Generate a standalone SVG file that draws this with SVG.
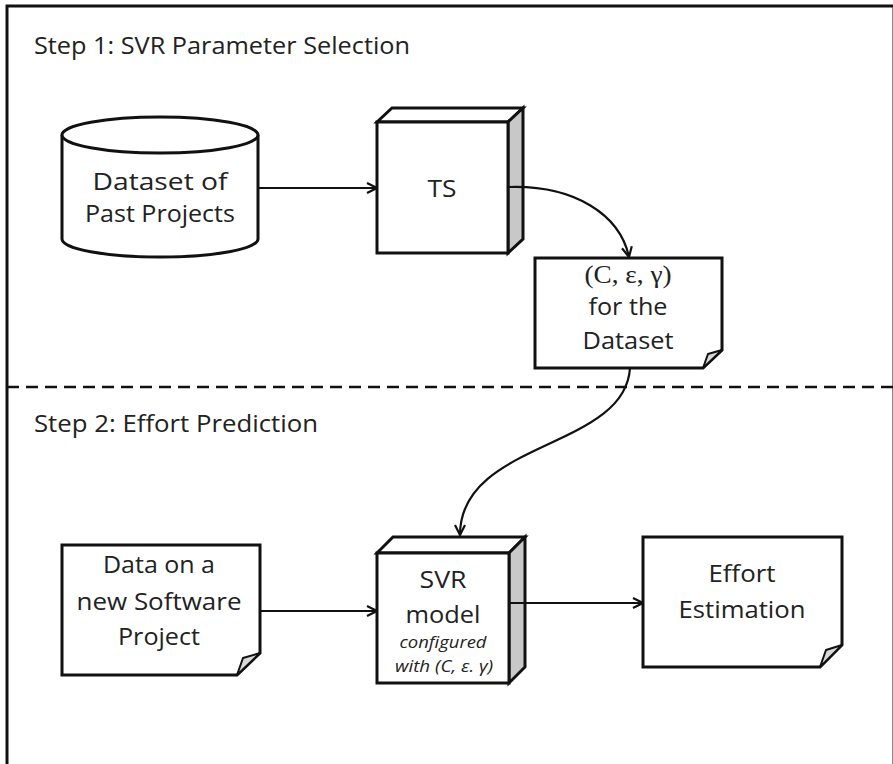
<svg xmlns="http://www.w3.org/2000/svg" width="893" height="764" viewBox="0 0 893 764">
  <style>
    .shape { fill: #ffffff; stroke: #111111; stroke-width: 3; stroke-linejoin: miter; }
    .side { fill: #c8c8c8; stroke: #111111; stroke-width: 3; }
    .curl { fill: #d9d9d9; stroke: #111111; stroke-width: 2; stroke-linejoin: round; }
    .label { font-family: "Open Sans", "Noto Sans", sans-serif; font-size: 24px; fill: #222222; text-anchor: middle; }
    .step { font-family: "Open Sans", "Noto Sans", sans-serif; font-size: 23px; fill: #222222; }
    .math { font-family: "Liberation Serif", serif; font-size: 25px; fill: #222222; text-anchor: middle; }
    .note { font-family: "Open Sans", "Noto Sans", sans-serif; font-style: italic; font-size: 16px; fill: #222222; text-anchor: middle; }
    .edge { fill: none; stroke: #111111; stroke-width: 2.2; }
  </style>
  <defs>
    <marker id="arrow" viewBox="0 0 12 12" refX="11" refY="6" markerWidth="12" markerHeight="12" markerUnits="userSpaceOnUse" orient="auto">
      <path d="M1,1 L11,6 L1,11" fill="none" stroke="#111111" stroke-width="2.2"/>
    </marker>
  </defs>

  <rect width="893" height="764" fill="#ffffff"/>

  <!-- outer frame and step divider -->
  <g id="frame">
    <rect x="7" y="6" width="887" height="800" fill="none" stroke="#111111" stroke-width="3"/>
    <line x1="7" y1="387" x2="893" y2="387" stroke="#111111" stroke-width="2.5" stroke-dasharray="12 7"/>
    <text class="step" x="34" y="54" textLength="376" lengthAdjust="spacingAndGlyphs">Step 1: SVR Parameter Selection</text>
    <text class="step" x="34" y="432" textLength="284" lengthAdjust="spacingAndGlyphs">Step 2: Effort Prediction</text>
  </g>

  <!-- dataset cylinder -->
  <g id="dataset">
    <path class="shape" d="M62,135 V239 A98,18 0 0 0 258,239 V135"/>
    <ellipse class="shape" cx="160" cy="135" rx="98" ry="18"/>
    <text class="label" x="160" y="190" textLength="135" lengthAdjust="spacingAndGlyphs">Dataset of</text>
    <text class="label" x="160" y="222" textLength="150" lengthAdjust="spacingAndGlyphs">Past Projects</text>
  </g>

  <!-- TS block -->
  <g id="ts">
    <polygon class="shape" points="377,122 392,108 523,108 508,122"/>
    <polygon class="side" points="508,122 523,108 523,239 508,253"/>
    <rect class="shape" x="377" y="122" width="131" height="131"/>
    <text class="label" x="442" y="197" textLength="29" lengthAdjust="spacingAndGlyphs">TS</text>
  </g>

  <!-- parameter result document -->
  <g id="params">
    <path class="shape" d="M535,258 H722 V350 L703,368 H535 Z"/>
    <polygon class="curl" points="703,368 708,354 722,350"/>
    <text class="math" x="628" y="283" textLength="87" lengthAdjust="spacingAndGlyphs">(C, ε, γ)</text>
    <text class="label" x="628" y="315" textLength="79" lengthAdjust="spacingAndGlyphs">for the</text>
    <text class="label" x="628" y="349" textLength="91" lengthAdjust="spacingAndGlyphs">Dataset</text>
  </g>

  <!-- new project data document -->
  <g id="newdata">
    <path class="shape" d="M62,545 H260 V653 L237,675 H62 Z"/>
    <polygon class="curl" points="237,675 243,658 260,653"/>
    <text class="label" x="159" y="573" textLength="112" lengthAdjust="spacingAndGlyphs">Data on a</text>
    <text class="label" x="159" y="610" textLength="165" lengthAdjust="spacingAndGlyphs">new Software</text>
    <text class="label" x="159" y="645" textLength="82" lengthAdjust="spacingAndGlyphs">Project</text>
  </g>

  <!-- SVR model block -->
  <g id="svr">
    <polygon class="shape" points="377,553 393,537 525,537 509,553"/>
    <polygon class="side" points="509,553 525,537 525,667 509,683"/>
    <rect class="shape" x="377" y="553" width="132" height="130"/>
    <text class="label" x="443" y="588" textLength="47" lengthAdjust="spacingAndGlyphs">SVR</text>
    <text class="label" x="443" y="623" textLength="75" lengthAdjust="spacingAndGlyphs">model</text>
    <text class="note" x="443" y="648" textLength="87" lengthAdjust="spacingAndGlyphs">configured</text>
    <text class="note" x="444" y="672" textLength="98" lengthAdjust="spacingAndGlyphs">with (C, ε. γ)</text>
  </g>

  <!-- effort estimation document -->
  <g id="effort">
    <path class="shape" d="M643,537 H842 V645 L820,667 H643 Z"/>
    <polygon class="curl" points="820,667 826,650 842,645"/>
    <text class="label" x="742" y="582" textLength="67" lengthAdjust="spacingAndGlyphs">Effort</text>
    <text class="label" x="742" y="618" textLength="127" lengthAdjust="spacingAndGlyphs">Estimation</text>
  </g>

  <!-- connectors -->
  <g id="connectors">
    <path class="edge" d="M258,188 H377" marker-end="url(#arrow)"/>
    <path class="edge" d="M509,187 C575,185 620,215 629,257" marker-end="url(#arrow)"/>
    <path class="edge" d="M630,368 C625,450 460,440 460,535" marker-end="url(#arrow)"/>
    <path class="edge" d="M260,611 H377" marker-end="url(#arrow)"/>
    <path class="edge" d="M509,603 H643" marker-end="url(#arrow)"/>
  </g>
</svg>
